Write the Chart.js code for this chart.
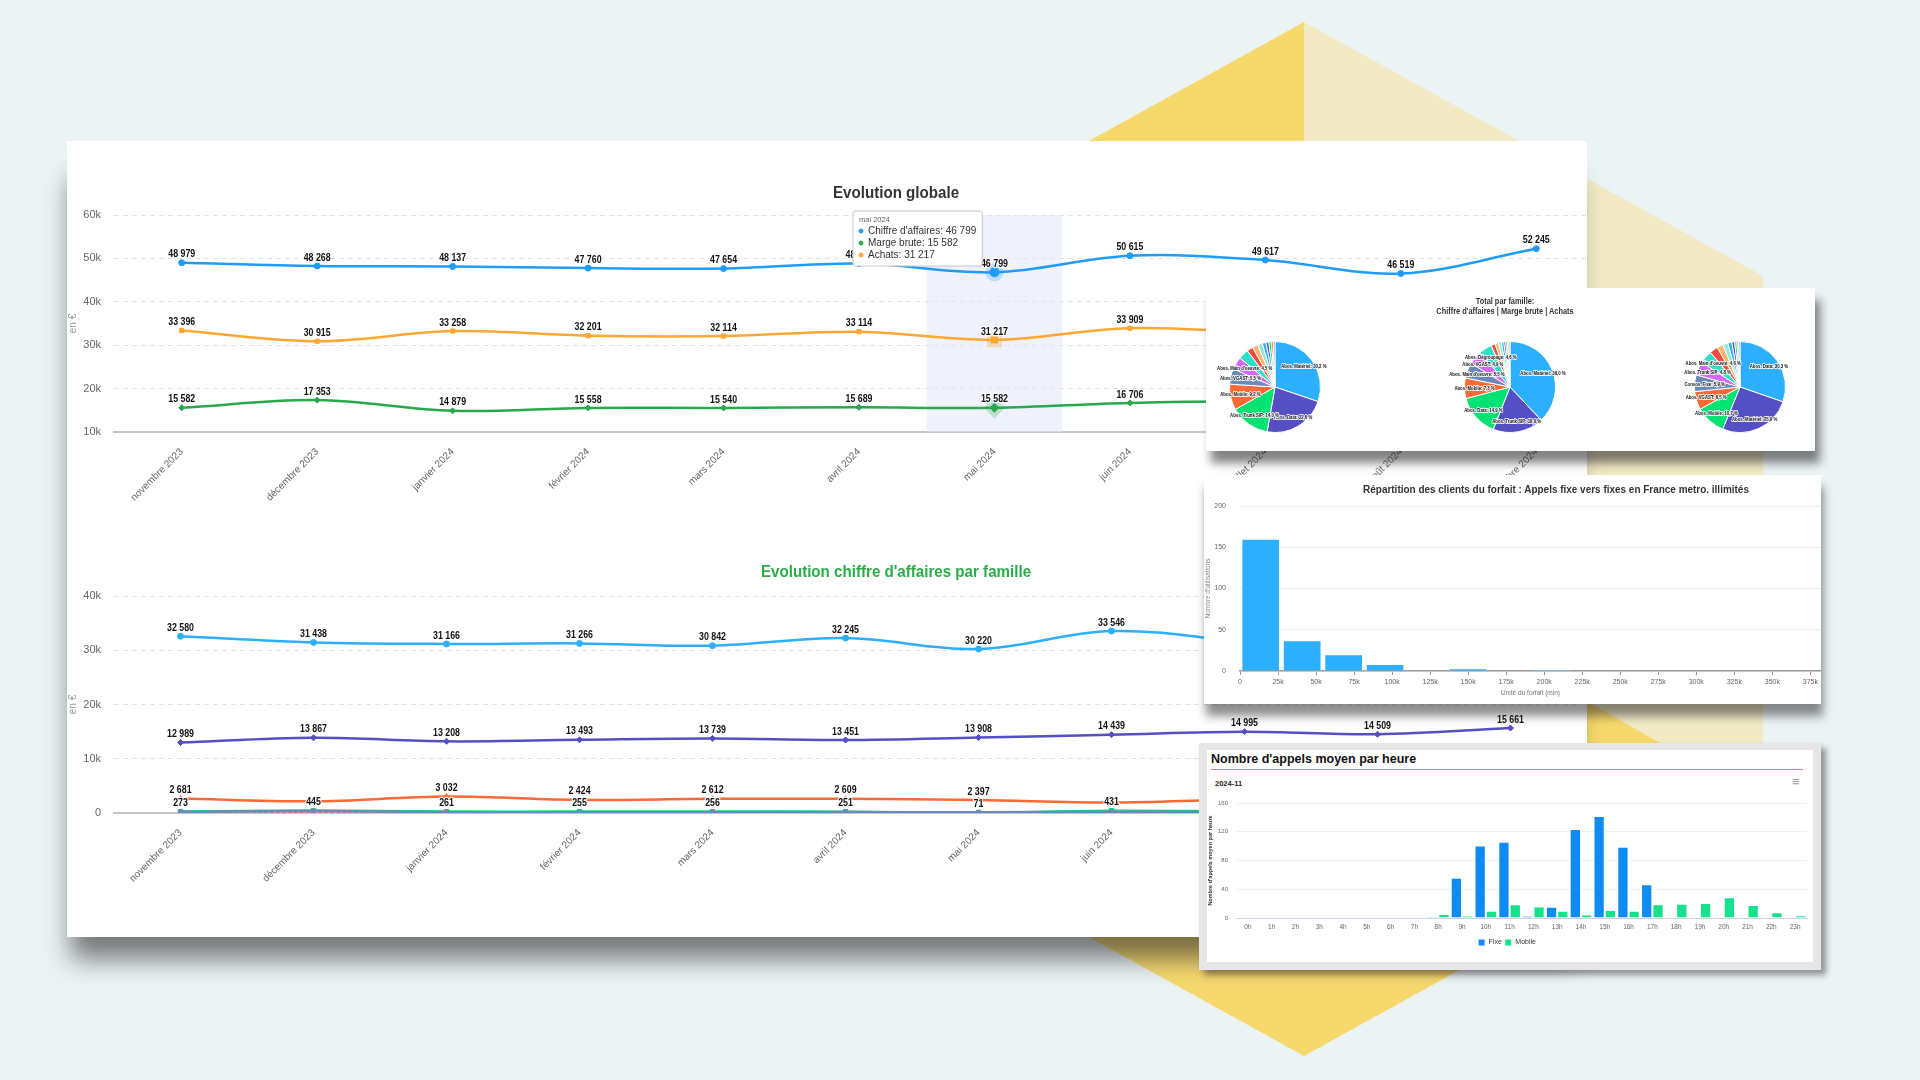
<!DOCTYPE html>
<html lang="fr">
<head>
<meta charset="utf-8">
<title>Evolution globale</title>
<script src="https://cdn.jsdelivr.net/npm/chart.js@4.4.1/dist/chart.umd.min.js"></script>
<style>
  html, body { margin: 0; padding: 0; }
  body { width: 1920px; height: 1080px; background: #ecf3f5; position: relative; overflow: hidden;
         font-family: "Liberation Sans", Arial, sans-serif; }
  #deco { position: absolute; left: 0; top: 0; }
  .panel { position: absolute; background: #fff; overflow: hidden; }
  .panel canvas { position: absolute; }
  #main { left: 67px; top: 141px; width: 1520px; height: 796px; z-index: 1;
          box-shadow: -4px 30px 24px -8px rgba(40,40,40,.6); }
  #pies { left: 1206px; top: 288px; width: 609px; height: 163px; z-index: 3;
          box-shadow: 5px 12px 9px rgba(30,30,30,.55); }
  #histo { left: 1204px; top: 475px; width: 617px; height: 229px; z-index: 2;
           box-shadow: 2px 12px 9px rgba(30,30,30,.5); }
  #heures { left: 1199px; top: 743px; width: 622px; height: 227px; z-index: 4; background: #e6e6e6;
            box-shadow: 5px 5px 6px rgba(30,30,30,.45); }
  #heuresIn { position: absolute; left: 8px; top: 7px; width: 606px; height: 212px; background: #fff; overflow: hidden; }
  .titre { position: absolute; white-space: nowrap; transform: translateX(-50%) scaleX(0.89); font-weight: bold; }
</style>
</head>
<body>
<svg id="deco" width="1920" height="1080">
  <polygon points="1304,22 1304,539 845,802 845,276" fill="#f6d96d"/>
  <polygon points="1304,22 1763,276 1763,802 1304,539" fill="#f1eac5"/>
  <polygon points="1304,539 1763,802 1304,1056 845,802" fill="#f6d96d"/>
</svg>

<div class="panel" id="main">
  <canvas id="cGlobal" width="1543" height="379" style="left:0;top:0"></canvas>
  <canvas id="cFamille" width="1515" height="380" style="left:0;top:379px"></canvas>
  <div class="titre" style="left:829px;top:42px;font-size:17px;color:#333">Evolution globale</div>
  <div class="titre" style="left:829px;top:421px;font-size:17px;color:#2aad49">Evolution chiffre d'affaires par famille</div>
</div>

<div class="panel" id="pies">
  <div class="titre" style="left:299px;top:9px;font-size:8.3px;color:#333;text-align:center;line-height:9.5px">Total par famille:<br>Chiffre d'affaires | Marge brute | Achats</div>
  <canvas id="pie1" width="170" height="100" style="left:-16px;top:49px"></canvas>
  <canvas id="pie2" width="170" height="100" style="left:219px;top:49px"></canvas>
  <canvas id="pie3" width="170" height="100" style="left:449px;top:49px"></canvas>
</div>

<div class="panel" id="histo">
  <canvas id="cHisto" width="617" height="223" style="left:0;top:0"></canvas>
  <div class="titre" style="left:352px;top:8px;font-size:11.2px;color:#333">Répartition des clients du forfait : Appels fixe vers fixes en France metro. illimités</div>
</div>

<div class="panel" id="heures">
  <div id="heuresIn">
    <div style="position:absolute;left:4px;top:2px;width:592px;border-bottom:1px solid #e9779d;font-weight:bold;font-size:12.5px;color:#111;padding-bottom:3px">Nombre d'appels moyen par heure</div>
    <div style="position:absolute;left:8px;top:29px;font-weight:bold;font-size:7.5px;color:#222">2024-11</div>
    <div style="position:absolute;left:585px;top:24px;font-size:13px;color:#999">≡</div>
    <canvas id="cHeures" width="606" height="166" style="left:0;top:40px"></canvas>
  </div>
</div>

<script>
// ===== données =====
const mois = ["novembre 2023", "décembre 2023", "janvier 2024", "février 2024", "mars 2024", "avril 2024",
  "mai 2024", "juin 2024", "juillet 2024", "août 2024", "septembre 2024"];
const chiffreAffaires = [48979, 48268, 48137, 47760, 47654, 48803, 46799, 50615, 49617, 46519, 52245];
const margeBrute = [15582, 17353, 14879, 15558, 15540, 15689, 15582, 16706, 16980, 16200, 17600];
const achats = [33396, 30915, 33258, 32201, 32114, 33114, 31217, 33909, 32637, 30319, 34645];
const moisSurvole = 6; // mai 2024

const famMobile = [32580, 31438, 31166, 31266, 30842, 32245, 30220, 33546, 31470, 28960, 33330];
const famData = [12989, 13867, 13208, 13493, 13739, 13451, 13908, 14439, 14995, 14509, 15661];
const famFixe = [2681, 2150, 3032, 2424, 2612, 2609, 2397, 1950, 2500, 2400, 2600];
const famTrunk = [180, 370, 140, 160, 150, 170, 120, 210, 200, 190, 210];
const famMateriel = [273, 445, 261, 255, 256, 251, 71, 431, 300, 280, 310];
const famAutres = [0, 0, 0, 0, 0, 0, 0, 0, 0, 0, 0];

const pieCALabels = ["Abos. Matériel", "Abos. Data", "Abos. Trunk SIP", "Abos. Mobile", "Abos. VGAST",
  "Abos. Main d'oeuvre", "Abos. Dégroupage", "Consos. Fixe", "Consos. Mobile", "Abos. SDA", "Abos. Fax",
  "Abos. Hébergement", "Abos. Licences", "Frais", "Autres"];
const pieCA = [30.2, 22.6, 14.0, 9.2, 5.5, 4.5, 3.6, 2.2, 2.0, 1.7, 1.3, 1.0, 0.9, 0.7, 0.6];
const pieMargeLabels = ["Abos. Matériel", "Abos. Trunk SIP", "Abos. Data", "Abos. Mobile", "Abos. Main d'oeuvre",
  "Abos. VGAST", "Abos. Dégroupage", "Consos. Fixe", "Consos. Mobile", "Abos. SDA", "Abos. Fax",
  "Abos. Hébergement", "Abos. Licences", "Frais", "Autres"];
const pieMarge = [38.0, 18.0, 14.9, 7.3, 5.5, 4.9, 4.6, 1.5, 1.2, 1.0, 0.9, 0.7, 0.6, 0.5, 0.4];
const pieAchatsLabels = ["Abos. Data", "Abos. Matériel", "Abos. Mobile", "Abos. VGAST", "Consos. Fixe",
  "Abos. Trunk SIP", "Abos. Main d'oeuvre", "Abos. Dégroupage", "Consos. Mobile", "Abos. SDA", "Abos. Fax",
  "Abos. Hébergement", "Abos. Licences", "Frais", "Autres"];
const pieAchats = [30.3, 25.9, 10.7, 6.5, 5.9, 4.8, 4.6, 3.0, 2.2, 1.8, 1.4, 1.0, 0.8, 0.6, 0.5];

const binsDebut = [0, 27250, 54500, 81750, 109000, 136250, 163500, 190750];
const nbUtilisations = [160, 37, 20, 8, 0, 3, 0, 1];
const histoTicks = [0, 25000, 50000, 75000, 100000, 125000, 150000, 175000, 200000, 225000, 250000,
  275000, 300000, 325000, 350000, 375000];

const heures = ["0h", "1h", "2h", "3h", "4h", "5h", "6h", "7h", "8h", "9h", "10h", "11h", "12h", "13h",
  "14h", "15h", "16h", "17h", "18h", "19h", "20h", "21h", "22h", "23h"];
const appelsFixe = [0, 0, 0, 0, 0, 0, 0, 0, 1.5, 56, 101, 106, 3, 15.5, 124, 142, 99, 47, 0, 0, 0, 0, 0, 0];
const appelsMobile = [0, 0, 0, 0, 0, 0, 0, 1, 5.5, 3.3, 10, 19, 16, 10, 4.7, 11, 10, 19, 20, 21, 29, 18, 8, 4];

// ===== styles =====
const PALETTE = ["#2caffe", "#544fc5", "#00e272", "#fe6a35", "#6b8abc", "#d568fb", "#2ee0ca", "#fa4b42", "#feb56a", "#91e8e1"];
Chart.defaults.font.family = '"Liberation Sans", Arial, sans-serif';
Chart.defaults.color = "#666";

const fmt = (v) => String(Math.round(v)).replace(/\B(?=(\d{3})+(?!\d))/g, " ");

// texte un peu condense, comme sur la capture
function texteSerre(ctx, txt, x, y, sx) {
  ctx.save();
  ctx.translate(x, y);
  ctx.scale(sx, 1);
  ctx.strokeText(txt, 0, 0);
  ctx.fillText(txt, 0, 0);
  ctx.restore();
}

// etiquettes de valeurs au-dessus des points (les derniers datasets d'abord)
const valueLabels = {
  id: "valueLabels",
  afterDatasetsDraw(chart, args, opts) {
    const ctx = chart.ctx;
    ctx.save();
    ctx.font = "bold " + opts.size + "px " + opts.family;
    ctx.textAlign = "center";
    ctx.textBaseline = "bottom";
    ctx.lineJoin = "round";
    ctx.strokeStyle = "rgba(255,255,255,0.9)";
    ctx.lineWidth = 2.5;
    ctx.fillStyle = "#111";
    const placed = [];
    for (let i = chart.data.datasets.length - 1; i >= 0; i--) {
      const ds = chart.data.datasets[i];
      if (ds.showValues === false) continue;
      chart.getDatasetMeta(i).data.forEach((pt, j) => {
        const txt = fmt(ds.data[j]);
        const w = ctx.measureText(txt).width * opts.serre;
        const y = pt.y - opts.offset;
        const box = { l: pt.x - w / 2, r: pt.x + w / 2, t: y - opts.size, b: y };
        if (placed.some((p) => p.l < box.r && box.l < p.r && p.t < box.b && box.t < p.b)) return;
        placed.push(box);
        texteSerre(ctx, txt, pt.x, y, opts.serre);
      });
    }
    ctx.restore();
  },
};

// bande de survol (mai 2024)
const bande = {
  id: "bande",
  beforeDatasetsDraw(chart, args, opts) {
    const x = chart.scales.x;
    const half = (x.getPixelForValue(1) - x.getPixelForValue(0)) / 2;
    const cx = x.getPixelForValue(opts.index);
    const a = chart.chartArea;
    chart.ctx.save();
    chart.ctx.fillStyle = "rgba(226,232,252,0.55)";
    chart.ctx.fillRect(cx - half, a.top, half * 2, a.bottom - a.top);
    chart.ctx.restore();
  },
};

const tooltipPlugin = Chart.registry.getPlugin("tooltip");
tooltipPlugin.positioners.coinFixe = function () {
  return { x: 788, y: 70 };
};

function axesLigne(min, max, yWidth, xHeight) {
  return {
    x: {
      offset: true,
      grid: { display: false },
      border: { display: true, color: "#c6c6c6", width: 2 },
      ticks: { minRotation: 45, maxRotation: 45, autoSkip: false, font: { size: 10 }, color: "#666", padding: 6 },
      afterFit: (s) => { s.height = xHeight; },
    },
    y: {
      min: min, max: max,
      ticks: { stepSize: 10000, padding: 13, font: { size: 11 }, color: "#666",
        callback: (v) => (v === 0 ? "0" : v / 1000 + "k") },
      grid: { drawTicks: false, color: (c) => (c.tick && c.tick.value === min ? "rgba(0,0,0,0)" : "#e2e2e2") },
      border: { display: false, dash: [5, 4] },
      title: { display: true, text: "en €", color: "#999", font: { size: 10 }, padding: 0 },
      afterFit: (s) => { s.width = yWidth; },
    },
  };
}

function serie(label, data, color, style, extra) {
  return Object.assign({
    label: label, data: data, borderColor: color, backgroundColor: color,
    pointStyle: style, pointRadius: 3, pointBorderWidth: 1, borderWidth: 2.5, tension: 0.35,
  }, extra || {});
}

const etiquettes = { size: 10.5, offset: 3, serre: 0.84, family: '"Liberation Sans", Arial, sans-serif' };

// ===== Evolution globale =====
const BLEU = "#1e9cf7", VERT = "#27a94c", ORANGE = "#ffa733";
const cGlobal = new Chart(document.getElementById("cGlobal"), {
  type: "line",
  data: {
    labels: mois,
    datasets: [
      serie("Chiffre d'affaires", chiffreAffaires, BLEU, "circle",
        { pointHoverRadius: 5, pointHoverBorderWidth: 8, pointHoverBorderColor: "rgba(30,156,247,0.25)", pointHoverBackgroundColor: BLEU }),
      serie("Marge brute", margeBrute, VERT, "rectRot",
        { pointHoverRadius: 5, pointHoverBorderWidth: 8, pointHoverBorderColor: "rgba(39,169,76,0.25)", pointHoverBackgroundColor: VERT }),
      serie("Achats", achats, ORANGE, "rect",
        { pointHoverRadius: 5, pointHoverBorderWidth: 8, pointHoverBorderColor: "rgba(255,167,51,0.3)", pointHoverBackgroundColor: ORANGE }),
    ],
  },
  options: {
    responsive: false, animation: false, events: [],
    layout: { padding: { top: 74, left: 0, right: 0, bottom: 0 } },
    scales: axesLigne(10000, 60000, 47, 88),
    plugins: {
      legend: { display: false },
      bande: { index: moisSurvole },
      valueLabels: etiquettes,
      tooltip: {
        enabled: true, position: "coinFixe", xAlign: "left", yAlign: "top", caretSize: 0, caretPadding: 0,
        backgroundColor: "rgba(255,255,255,0.97)", borderColor: "#c8c8c8", borderWidth: 1, cornerRadius: 2,
        titleColor: "#666", titleFont: { size: 7.5, weight: "normal" }, titleMarginBottom: 1,
        bodyColor: "#333", bodyFont: { size: 10 }, bodySpacing: 0,
        padding: { left: 6, right: 6, top: 4, bottom: 5 },
        usePointStyle: true, boxWidth: 4, boxHeight: 4, boxPadding: 3,
        callbacks: {
          label: (it) => it.dataset.label + ": " + fmt(it.raw),
          labelPointStyle: () => ({ pointStyle: "circle", rotation: 0 }),
          labelColor: (it) => ({ borderColor: it.dataset.borderColor, backgroundColor: it.dataset.borderColor }),
        },
      },
    },
  },
  plugins: [bande, valueLabels],
});
const actifs = [0, 1, 2].map((d) => ({ datasetIndex: d, index: moisSurvole }));
cGlobal.setActiveElements(actifs);
cGlobal.tooltip.setActiveElements(actifs, { x: 0, y: 0 });
cGlobal.draw();

// ===== Evolution chiffre d'affaires par famille =====
new Chart(document.getElementById("cFamille"), {
  type: "line",
  data: {
    labels: mois,
    datasets: [
      serie("Abos. Mobile", famMobile, "#2caffe", "circle"),
      serie("Abos. Data", famData, "#544fc5", "rectRot"),
      serie("Abos. Fixe", famFixe, "#fe6a35", "triangle"),
      serie("Abos. Trunk SIP", famTrunk, "#6b8abc", "rect", { showValues: false }),
      serie("Autres", famAutres, "#fa4b42", false, { showValues: false, borderWidth: 1.5, borderDash: [3, 3] }),
      serie("Abos. Matériel", famMateriel, "#00e272", "rect"),
    ],
  },
  options: {
    responsive: false, animation: false, events: [],
    layout: { padding: { top: 76, left: 0, right: 0, bottom: 0 } },
    scales: axesLigne(0, 40000, 47, 87),
    plugins: {
      legend: { display: false }, tooltip: { enabled: false },
      valueLabels: etiquettes,
    },
  },
  plugins: [valueLabels],
});

// ===== camemberts =====
const pieLabels = {
  id: "pieLabels",
  afterDatasetsDraw(chart, args, opts) {
    const ctx = chart.ctx;
    const ds = chart.data.datasets[0];
    ctx.save();
    ctx.font = "bold 5.5px Arial, sans-serif";
    ctx.textAlign = "center";
    ctx.textBaseline = "middle";
    ctx.lineJoin = "round";
    ctx.strokeStyle = "rgba(255,255,255,0.9)";
    ctx.lineWidth = 2;
    ctx.fillStyle = "#111";
    chart.getDatasetMeta(0).data.forEach((arc, i) => {
      const v = ds.data[i];
      if (v < opts.seuil) return;
      const mid = (arc.startAngle + arc.endAngle) / 2;
      const x = arc.x + Math.cos(mid) * arc.outerRadius * 0.78;
      const y = arc.y + Math.sin(mid) * arc.outerRadius * 0.78;
      const txt = chart.data.labels[i] + ": " + v.toFixed(1).replace(".", ",") + " %";
      texteSerre(ctx, txt, x, y, 0.78);
    });
    ctx.restore();
  },
};

function camembert(id, labels, values) {
  new Chart(document.getElementById(id), {
    type: "pie",
    data: {
      labels: labels,
      datasets: [{ data: values, backgroundColor: labels.map((l, i) => PALETTE[i % PALETTE.length]),
        borderColor: "#fff", borderWidth: 1 }],
    },
    options: {
      responsive: false, animation: false, events: [],
      layout: { padding: { top: 4, bottom: 4 } },
      plugins: { legend: { display: false }, tooltip: { enabled: false }, pieLabels: { seuil: 4 } },
    },
    plugins: [pieLabels],
  });
}
camembert("pie1", pieCALabels, pieCA);
camembert("pie2", pieMargeLabels, pieMarge);
camembert("pie3", pieAchatsLabels, pieAchats);

// ===== histogramme =====
const largeurBin = binsDebut[1] - binsDebut[0];
new Chart(document.getElementById("cHisto"), {
  type: "bar",
  data: {
    datasets: [{
      label: "Nombre d'utilisations",
      data: binsDebut.map((b, i) => ({ x: b + largeurBin / 2, y: nbUtilisations[i] })),
      backgroundColor: "#2caffe", borderColor: "#fff", borderWidth: 1,
      barPercentage: 1, categoryPercentage: 1,
    }],
  },
  options: {
    responsive: false, animation: false, events: [],
    layout: { padding: { top: 31, left: 0, right: 0, bottom: 0 } },
    scales: {
      x: {
        type: "linear", offset: false, min: 0, max: 382000,
        grid: { display: true, drawOnChartArea: false, drawTicks: true, tickLength: 4, color: "#999", offset: false },
        border: { display: true, color: "#999", width: 1.5 },
        ticks: { maxRotation: 0, autoSkip: false, font: { size: 7 }, color: "#666", padding: 3,
          callback: (v) => (v === 0 ? "0" : v / 1000 + "k") },
        afterBuildTicks: (s) => { s.ticks = histoTicks.map((v) => ({ value: v })); },
        title: { display: true, text: "Unité du forfait (min)", font: { size: 6.5 }, color: "#777", padding: 1 },
        afterFit: (s) => { s.height = 27; },
      },
      y: {
        min: 0, max: 200,
        ticks: { stepSize: 50, font: { size: 7 }, color: "#666", padding: 14 },
        grid: { drawTicks: false, color: "#eeeeee" },
        border: { display: false },
        title: { display: true, text: "Nombre d'utilisations", font: { size: 6.5 }, color: "#888", padding: 0 },
        afterFit: (s) => { s.width = 36; },
      },
    },
    plugins: { legend: { display: false }, tooltip: { enabled: false } },
  },
});

// ===== appels par heure =====
new Chart(document.getElementById("cHeures"), {
  type: "bar",
  data: {
    labels: heures,
    datasets: [
      { label: "Fixe", data: appelsFixe, backgroundColor: "#0f8cf4", borderColor: "#fff", borderWidth: 1 },
      { label: "Mobile", data: appelsMobile, backgroundColor: "#16e28c", borderColor: "#fff", borderWidth: 1 },
    ],
  },
  options: {
    responsive: false, animation: false, events: [],
    layout: { padding: { top: 13, left: 0, right: 6, bottom: 0 } },
    datasets: { bar: { categoryPercentage: 0.95, barPercentage: 1 } },
    scales: {
      x: {
        grid: { display: false, drawTicks: false },
        border: { display: true, color: "#ccd6eb", width: 1 },
        ticks: { font: { size: 6.5 }, color: "#666", maxRotation: 0, autoSkip: false, padding: 5 },
        afterFit: (s) => { s.height = 18; },
      },
      y: {
        min: 0, max: 160,
        ticks: { stepSize: 40, font: { size: 6 }, color: "#666", padding: 8 },
        grid: { drawTicks: false, color: "#efefef" },
        border: { display: false },
        title: { display: true, text: "Nombre d'appels moyen par heure", font: { size: 5.5, weight: "bold" }, color: "#333", padding: 0 },
        afterFit: (s) => { s.width = 29; },
      },
    },
    plugins: {
      tooltip: { enabled: false },
      legend: { position: "bottom", labels: { boxWidth: 7, boxHeight: 7, padding: 3, font: { size: 7 }, color: "#333" } },
    },
  },
});
</script>
</body>
</html>
